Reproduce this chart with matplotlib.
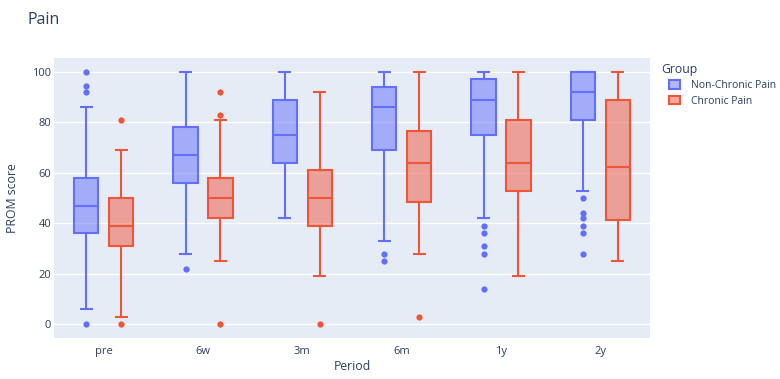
import matplotlib
matplotlib.use("Agg")
import matplotlib.pyplot as plt
from matplotlib.patches import Patch

periods = ["pre", "6w", "3m", "6m", "1y", "2y"]
groups = ["Non-Chronic Pain", "Chronic Pain"]
colors = ["#636EFA", "#EF553B"]

# Non-Chronic Pain stats
nc_low = [6, 28, 42, 33, 42, 53]
nc_q1 = [36, 56, 64, 69, 75, 81]
nc_med = [47, 67, 75, 86, 89, 92]
nc_q3 = [58, 78, 89, 94, 97, 100]
nc_high = [86, 100, 100, 100, 100, 100]
nc_out = [[100, 94.5, 92, 0], [22], [], [28, 25], [39, 36, 31, 28, 14], [50, 44, 42, 39, 36, 28]]

# Chronic Pain stats
c_low = [3, 25, 19, 28, 19, 25]
c_q1 = [31, 42, 39, 48.3, 53, 41.3]
c_med = [39, 50, 50, 64, 64, 62.5]
c_q3 = [50, 58, 61, 76.6, 81, 89]
c_high = [69, 81, 92, 100, 100, 100]
c_out = [[81, 0], [92, 83, 0], [0], [3], [], []]

series = [
    (nc_low, nc_q1, nc_med, nc_q3, nc_high, nc_out),
    (c_low, c_q1, c_med, c_q3, c_high, c_out),
]

BG = "#E5ECF6"
TXT = "#2a3f5f"
FONT = ["Open Sans", "DejaVu Sans"]
plt.rcParams["font.family"] = FONT

fig = plt.figure(figsize=(7.8, 3.79), dpi=100)
ax = fig.add_axes([54 / 780, 1 - 338 / 379, 596 / 780, 280 / 379])
ax.set_facecolor(BG)
for s in ax.spines.values():
    s.set_visible(False)

offsets = [-0.175, 0.175]
bw = 0.245
for gi, (lo, q1, md, q3, hi, out) in enumerate(series):
    stats = []
    for i in range(len(periods)):
        stats.append(dict(whislo=lo[i], q1=q1[i], med=md[i], q3=q3[i], whishi=hi[i], fliers=out[i]))
    pos = [i + offsets[gi] for i in range(len(periods))]
    c = colors[gi]
    ax.bxp(stats, positions=pos, widths=bw, patch_artist=True, showfliers=True,
           capwidths=bw * 0.45,
           boxprops=dict(facecolor=matplotlib.colors.to_rgba(c, 0.5), edgecolor=c, linewidth=1.5),
           medianprops=dict(color=c, linewidth=1.5),
           whiskerprops=dict(color=c, linewidth=1.5),
           capprops=dict(color=c, linewidth=1.5),
           flierprops=dict(marker="o", markerfacecolor=c, markeredgecolor="none", markersize=4.5),
           manage_ticks=False, zorder=3)

ax.set_xlim(-0.5, len(periods) - 0.5)
ax.set_ylim(-5.4, 105.5)
ax.set_yticks([0, 20, 40, 60, 80, 100])
ax.set_xticks(range(len(periods)))
ax.set_xticklabels(periods)
ax.grid(axis="y", color="white", linewidth=1.0, zorder=0)
ax.set_axisbelow(True)
ax.tick_params(axis="y", length=0, labelsize=8, colors=TXT, pad=2)
ax.tick_params(axis="x", length=0, labelsize=8, colors=TXT, pad=6)
ax.set_xlabel("Period", fontsize=8.8, color=TXT)
ax.set_ylabel("PROM score", fontsize=8.8, color=TXT)
ax.xaxis.set_label_coords(0.5, (338 - 367) / 280)
ax.yaxis.set_label_coords((12 - 54) / 596, 0.5)
ax.xaxis.label.set_va("center")
ax.yaxis.label.set_va("center")

fig.text(28 / 780, 1 - 20 / 379, "Pain", fontsize=11.5, color=TXT, va="center", ha="left")

fig.text(661 / 780, 1 - 69 / 379, "Group", fontsize=8.8, color=TXT, va="center", ha="left")
handles = [Patch(facecolor=matplotlib.colors.to_rgba(c, 0.5), edgecolor=c, linewidth=1.5) for c in colors]
leg = fig.legend(handles, groups, loc="upper left",
                 bbox_to_anchor=(669 / 780, 1 - 80 / 379), frameon=False,
                 fontsize=7.5, handlelength=1.1, handleheight=0.9,
                 handletextpad=1.0, labelspacing=0.45, borderaxespad=0, borderpad=0)
for t in leg.get_texts():
    t.set_color(TXT)

fig.savefig("out.png", dpi=100)
